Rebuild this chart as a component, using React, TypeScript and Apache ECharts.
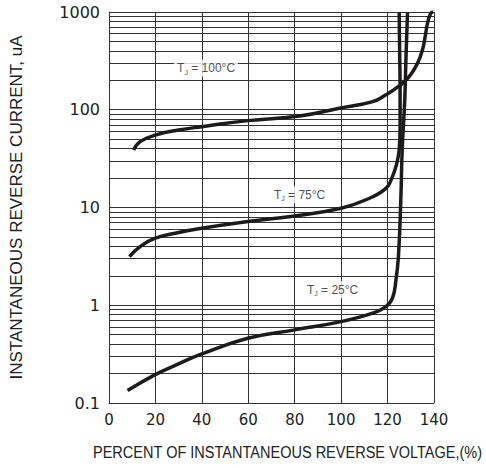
import React, { useEffect, useRef } from 'react';
import * as echarts from 'echarts';

// T_J = 100°C
const pct100 = [10.6, 13.4, 19.9, 30, 39.9, 59.9, 82.1, 99.2, 113.6, 119.3, 125, 129.3, 132.9, 135, 136.2, 137.2, 138.6, 139.6];
const cur100 = [38.8, 47.2, 55, 62, 67.1, 77.4, 86.5, 103.5, 121, 142, 175, 218, 299, 408, 559, 766, 970, 1000];
// T_J = 75°C
const pct75 = [8.8, 13.4, 19.9, 30, 39.9, 59.9, 80, 100, 110.7, 119.3, 122.1, 124, 125, 125.4, 125.4, 125.2, 125];
const cur75 = [3.15, 3.98, 4.85, 5.55, 6.13, 7.18, 8.2, 9.84, 12, 15.7, 20.7, 28.4, 38.8, 70, 150, 400, 1000];
// T_J = 25°C
const pct25 = [8, 19.7, 29.7, 39.7, 59.8, 80, 100, 113.6, 119.3, 122.1, 123.6, 124.7, 125.7, 126.3, 127.4, 127.9, 128.6];
const cur25 = [0.134, 0.194, 0.25, 0.316, 0.46, 0.56, 0.68, 0.83, 0.97, 1.18, 1.8, 3.2, 12, 38.8, 126, 323, 1000];

const curveLabels = ['100', '75', '25'];
const labelPos: [number, number][] = [[41.8, 267], [82.1, 13.5], [96.3, 1.44]];

const decades = [0.1, 1, 10, 100];
const minorMult = [2, 3, 4, 5, 6, 7, 8, 9];

const zip = (xs: number[], ys: number[]) => xs.map((x, i) => [x, ys[i]]);

export default function App() {
  const ref = useRef<HTMLDivElement>(null);
  useEffect(() => {
    if (!ref.current) return;
    const chart = echarts.init(ref.current, null, { renderer: 'svg' });
    const gridColor = '#333';
    const minorLines: any[] = [];
    decades.forEach((d) => minorMult.forEach((m) => minorLines.push({ yAxis: +(d * m).toPrecision(3) })));
    const curveStyle = { color: '#1c1a1a', width: 3.5 };
    const labelFont = 'Liberation Sans, Arial, sans-serif';
    const rich = {
      t: { fontSize: 12, fontFamily: labelFont, color: '#222', lineHeight: 15 },
      s: { fontSize: 7, fontFamily: labelFont, color: '#222', lineHeight: 15, verticalAlign: 'bottom' },
    };
    chart.setOption({
      animation: false,
      backgroundColor: '#fff',
      grid: { left: 109, top: 12, right: 52, bottom: 65 },
      graphic: [
        {
          type: 'text',
          left: 93,
          top: 444,
          scaleX: 0.855,
          style: {
            text: 'PERCENT OF INSTANTANEOUS REVERSE VOLTAGE,(%)',
            fontFamily: 'Liberation Sans, Arial, sans-serif',
            fontSize: 17,
            fill: '#222',
          },
        },
      ],
      xAxis: {
        type: 'value',
        min: 0,
        max: 140,
        interval: 20,
        axisLine: { show: true, lineStyle: { color: gridColor, width: 1 } },
        axisTick: { show: false },
        axisLabel: { fontFamily: 'DejaVu Sans, sans-serif', fontSize: 15, color: '#222', margin: 9 },
        splitLine: { show: true, lineStyle: { color: gridColor, width: 1 } },
      },
      yAxis: {
        type: 'log',
        logBase: 10,
        min: 0.1,
        max: 1000,
        name: 'INSTANTANEOUS REVERSE CURRENT, uA',
        nameLocation: 'middle',
        nameGap: 84,
        nameTextStyle: { fontFamily: 'Liberation Sans, Arial, sans-serif', fontSize: 17, color: '#222' },
        axisLine: { show: true, lineStyle: { color: gridColor, width: 1 } },
        axisTick: { show: false },
        axisLabel: {
          fontFamily: 'DejaVu Sans, sans-serif',
          fontSize: 16,
          color: '#222',
          margin: 9,
          formatter: (v: number) => String(v),
        },
        splitLine: { show: true, lineStyle: { color: gridColor, width: 1 } },
      },
      series: [
        {
          type: 'line',
          data: [],
          silent: true,
          markLine: {
            silent: true,
            symbol: 'none',
            label: { show: false },
            lineStyle: { color: gridColor, width: 1, type: 'solid' },
            data: minorLines,
          },
        },
        {
          type: 'line',
          data: zip(pct100, cur100),
          showSymbol: false,
          smooth: 0.45,
          lineStyle: curveStyle,
          z: 5,
        },
        {
          type: 'line',
          data: zip(pct75, cur75),
          showSymbol: false,
          smooth: 0.45,
          lineStyle: curveStyle,
          z: 5,
        },
        {
          type: 'line',
          data: zip(pct25, cur25),
          showSymbol: false,
          smooth: 0.45,
          lineStyle: curveStyle,
          z: 5,
        },
        {
          type: 'scatter',
          symbolSize: 1,
          itemStyle: { color: 'rgba(0,0,0,0)' },
          z: 6,
          data: labelPos.map((p, i) => ({ value: p, name: curveLabels[i] })),
          label: {
            show: true,
            position: 'inside',
            backgroundColor: '#fff',
            padding: [1, 3],
            formatter: (p: any) => `{t|T}{s|J}{t| = ${p.name}°C}`,
            rich,
          },
        },
      ],
    });
    return () => chart.dispose();
  }, []);
  return <div ref={ref} style={{ position: 'fixed', left: 0, top: 0, width: 486, height: 468 }} />;
}
